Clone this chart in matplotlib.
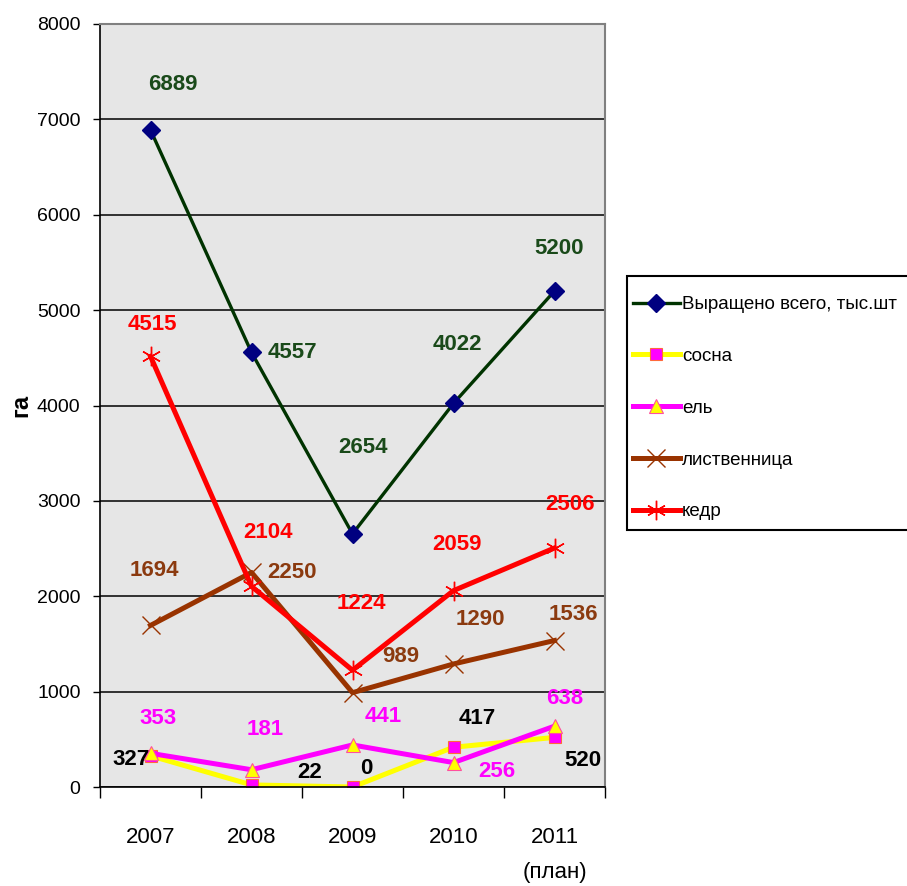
import numpy as np
import matplotlib
matplotlib.use('Agg')
import matplotlib.pyplot as plt
from matplotlib.patches import Rectangle

# chart data
years = ['2007', '2008', '2009', '2010', '2011\n(план)']
total = [6889, 4557, 2654, 4022, 5200]
sosna = [327, 22, 0, 417, 520]
el = [353, 181, 441, 256, 638]
listv = [1694, 2250, 989, 1290, 1536]
kedr = [4515, 2104, 1224, 2059, 2506]

names = ['Выращено всего, тыс.шт', 'сосна', 'ель', 'лиственница', 'кедр']

# label offsets in pixels (dx, dy up) - layout only
off_total = [(22, 45), (41, 0), (10, 86), (4, 59), (5, 43)]
off_sosna = [(-19, -4), (58, 12), (14, 19), (24, 29), (28, -23)]
off_el = [(8, 35), (14, 40), (31, 28), (43, -9), (10, 28)]
off_listv = [(4, 55), (41, 0), (48, 36), (27, 44), (19, 26)]
off_kedr = [(2, 32), (16, 54), (9, 67), (3, 46), (15, 43)]

font = ['Liberation Sans', 'DejaVu Sans']

fig = plt.figure(figsize=(9.07, 8.86), dpi=100)
fig.patch.set_facecolor('white')
ax = fig.add_axes([100 / 907, 1 - 787 / 886, 505 / 907, 763 / 886])
ax.set_facecolor('#e6e6e6')

x = np.arange(len(years))

series = [
    (total, dict(color='#003300', lw=2.4, marker='D', ms=9, mfc='#000080', mec='#000080'), off_total, '#1a4a1a'),
    (sosna, dict(color='#ffff00', lw=3.6, marker='s', ms=8, mfc='#ff00ff', mec='#ff6a3a', mew=0.8), off_sosna, 'black'),
    (el, dict(color='#ff00ff', lw=3.6, marker='^', ms=10, mfc='#ffff00', mec='#ff4fa0', mew=0.8), off_el, '#ff00ff'),
    (listv, dict(color='#993300', lw=3.6, marker='x', ms=13, mec='#993300', mew=1.0), off_listv, '#8b3a0f'),
    (kedr, dict(color='#ff0000', lw=3.6, marker=(6, 2, 0), ms=14, mec='#ff0000', mew=1.0), off_kedr, '#ff0000'),
]

for (vals, style, offs, tcol), name in zip(series, names):
    ax.plot(x, vals, label=name, **style)
    for xi, v, (dx, dy) in zip(x, vals, offs):
        ax.annotate(str(v), (xi, v), xytext=(dx, dy), textcoords='offset pixels',
                    ha='center', va='center', color=tcol, fontsize=16,
                    fontweight='bold', family=font)

ax.set_xlim(-0.5, len(years) - 0.5)
ax.set_ylim(0, 8000)
ax.set_yticks(np.arange(0, 8001, 1000))
ax.set_yticklabels([str(v) for v in range(0, 8001, 1000)], family=font, fontsize=14)
ax.tick_params(axis='y', direction='out', length=5, width=1, pad=9)
ax.grid(axis='y', color='black', lw=1.1)
ax.set_axisbelow(True)

# category boundaries as ticks, labels at centres
ax.set_xticks(np.arange(-0.5, len(years), 1.0))
ax.set_xticklabels([])
ax.tick_params(axis='x', which='major', direction='out', length=8, width=1)
ax.set_xticks(x, minor=True)
ax.set_xticklabels(years, minor=True, family=font, fontsize=16, linespacing=1.85, va='top')
ax.tick_params(axis='x', which='minor', length=0, pad=29)

for s in ['left', 'bottom']:
    ax.spines[s].set_color('black')
    ax.spines[s].set_linewidth(1.2)
for s in ['top', 'right']:
    ax.spines[s].set_color('#808080')
    ax.spines[s].set_linewidth(1.5)

fig.text(21 / 907, 1 - 405 / 886, 'га', rotation=90, ha='center', va='center',
         fontsize=17, fontweight='bold', family=font)

# legend box drawn by hand so it runs off the right edge like the original
fig.patches.append(Rectangle((627 / 907, 1 - 530 / 886), 290 / 907, 254 / 886,
                             transform=fig.transFigure, facecolor='white',
                             edgecolor='black', lw=1.5, zorder=0))
leg = fig.legend(loc='upper left', bbox_to_anchor=(633 / 907, 1 - 296 / 886),
                 frameon=False, prop={'family': font, 'size': 13.5},
                 handlelength=2.5, handletextpad=0.12, labelspacing=1.85, borderpad=0,
                 borderaxespad=0)

fig.savefig('out.png', dpi=100, facecolor='white')
